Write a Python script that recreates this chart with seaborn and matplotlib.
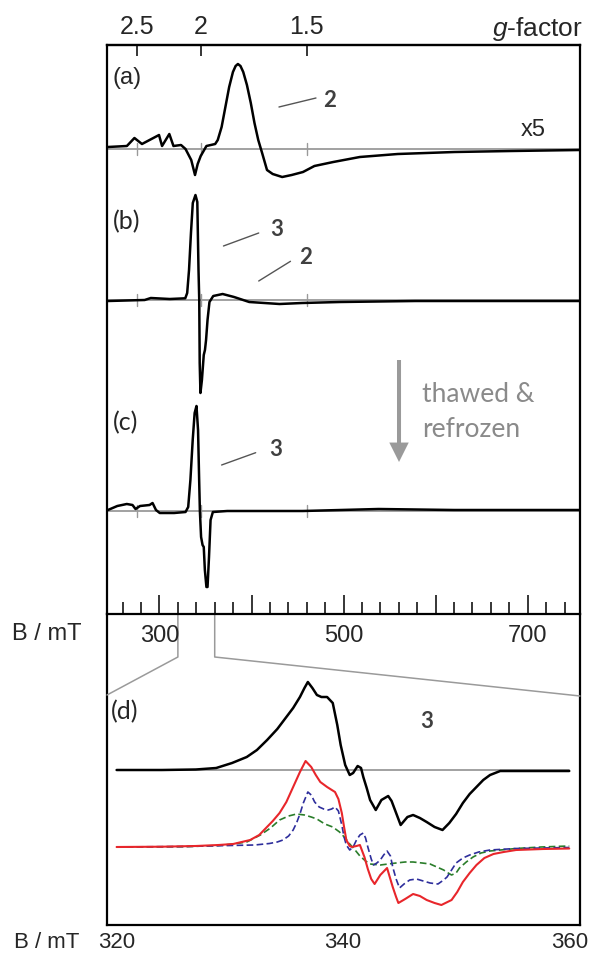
import numpy as np
import pandas as pd
import matplotlib
matplotlib.use("Agg")
import matplotlib.pyplot as plt
import seaborn as sns
from matplotlib.lines import Line2D
from matplotlib.ticker import FixedLocator, FixedFormatter, MultipleLocator

# ---------------- data ----------------
G_TIMES_B = 690.0          # g * B (mT) for the microwave frequency used
g_ticks = [2.5, 2.0, 1.5]
g_labels = ["2.5", "2", "1.5"]
B_ticks_top = [300, 400, 500, 600, 700]
B_labels_top = ["300", "", "500", "", "700"]
B_ticks_d = [320, 340, 360]
B_labels_d = ["320", "340", "360"]

# (a)  x5
a_B = [244, 264.6, 272.8, 281, 299.5, 302.8, 310.7, 315.2, 323.4, 328.3, 334.5, 338.6,
       341.5, 344.8, 351, 360.5, 363.3, 367.5, 371.6, 375.7, 379.8, 382.7, 385.2, 388,
       391, 395, 399.2, 403.2, 407.3, 411.5, 416.8, 423, 433.3, 443.6, 455.9, 468.3,
       488.8, 517.6, 558.8, 620.5, 682.3, 756.3]
a_I = [2, 3, 11, 5, 14, 3, 15, 3, 4, 0, -11, -26,
       -15, -7, 3, 5, 9, 22, 42, 62, 77, 83, 85, 83,
       77, 64, 46, 26, 9, -4, -21, -25, -28, -26, -23, -17,
       -13, -8, -5, -3, -2, -1]

# (b)
b_B = [244, 283.9, 290.6, 311.2, 328, 330.1, 332.1, 334.2, 336.2, 339.1, 341.1, 342.4,
       343.2, 343.7, 344.5, 346.1, 348.1, 349.4, 350.6, 352.2, 354.3, 358.4, 368.6, 381,
       397.5, 414, 430.4, 455, 496, 578, 756]
b_I = [-1, 0, 2, 1, 1.7, 7, 30, 67, 97, 105, 98, 30,
       0, -63, -93, -80, -55, -50, -40, -20, -2, 4, 6, 3,
       -2, -3, -4, -3, -2, -1, -1]

# (c)
c_B = [244, 254.2, 264.5, 270.7, 274, 278.9, 289.2, 292.5, 296.2, 300.3, 315.9, 328.3,
       331.2, 333.6, 336.1, 338.2, 340.2, 341.9, 343.1, 343.9, 345.2, 346.8, 348.1, 349.3,
       351, 352.2, 353.8, 355.5, 358, 373.6, 455.7, 538, 620, 756]
c_I = [1, 5, 7, 6, 2, 5, 6, 8, 1, -2, -2, -1,
       4, 31, 71, 98, 105, 81, 31, 0, -26, -34, -36, -59,
       -76, -76, -46, -9, -1, 0, 0, 2, 1, 1]

# (d) experimental (black)
dk_B = [320, 324, 327, 328.8, 330.2, 331.5, 332.4, 333.3, 334.2, 335.0, 335.6, 336.2,
        336.6, 336.9, 337.3, 337.7, 338.1, 338.6, 339.1, 339.5, 339.8, 340.2, 340.6, 340.9,
        341.3, 341.6, 341.8, 342.1, 342.4, 342.9, 343.4, 344.0, 344.3, 344.6, 345.1, 345.7,
        346.2, 346.8, 347.4, 348.1, 348.8, 349.4, 350.0, 350.6, 351.2, 351.8, 352.4, 353.0,
        353.9, 355, 357, 360]
dk_I = [0, 0, 0.5, 2, 7, 13, 20, 30, 41, 53, 62, 73,
        82, 88, 82, 75, 73, 73, 67, 45, 25, 5, -5, -3,
        4, 2, -7, -18, -30, -40, -30, -26, -31, -40, -55, -47,
        -45, -48, -52, -57, -60, -53, -44, -33, -24, -17, -10, -5,
        -1, -1, -1, -1]
# (d) simulation total (red)
dr_B = [320, 324, 327, 329, 330.3, 331.8, 332.6, 333.2, 333.8, 334.4, 335.0, 335.6,
        336.2, 336.7, 337.2, 337.6, 338.0, 338.6, 339.3, 339.6, 339.9, 340.1, 340.3, 340.6,
        340.8, 341.2, 341.5, 341.9, 342.2, 342.5, 342.8, 343.3, 343.9, 344.4, 344.7, 344.9,
        345.5, 346.2, 346.8, 347.4, 348.1, 348.7, 349.6, 350.1, 350.6, 351.2, 351.8, 352.5,
        353.3, 354.2, 355.3, 357.7, 360]
dr_I = [0, 0.3, 1, 2, 3, 7, 12, 19, 26, 34, 45, 60,
        75, 86, 80, 72, 65, 60, 55, 48, 34, 20, 7, 1,
        0, 1, 2, -10, -22, -32, -37, -28, -21, -40, -50, -56,
        -52, -47, -49, -53, -56, -58, -53, -45, -35, -26, -18, -11,
        -7, -5, -3, -2, -1.5]
# (d) component 1 (blue dashed)
db_B = [320, 326, 330, 332.2, 333.5, 334.2, 334.7, 335.2, 335.6, 335.9, 336.2, 336.5,
        336.9, 337.2, 337.5, 337.9, 338.3, 338.7, 339.0, 339.3, 339.6, 339.9, 340.1, 340.3,
        340.6, 340.9, 341.2, 341.5, 341.8, 342.0, 342.2, 342.5, 342.7, 343.0, 343.3, 343.6,
        343.9, 344.2, 344.4, 344.7, 345.0, 345.4, 345.9, 346.5, 347.1, 347.7, 348.4, 348.9,
        349.2, 349.6, 350.0, 350.6, 351.2, 352.0, 353.0, 355.3, 360]
db_I = [0, 0.5, 1.5, 2, 3.5, 5, 7, 11, 17, 24, 33, 44,
        55, 52, 45, 40, 38, 37, 38, 40, 36, 22, 10, 2,
        -3, 0, 7, 12, 14, 9, 0, -12, -18, -16, -13, -8,
        -4, -9, -20, -32, -41, -37, -33, -32, -34, -36, -37, -33,
        -30, -23, -16, -11, -8, -5, -3, -1.5, -0.5]
# (d) component 2 (green dashed)
dg_B = [320, 326, 329, 330.3, 331.5, 332.7, 333.6, 334.4, 335.2, 335.9, 336.6, 337.2,
        337.7, 338.4, 339.1, 339.7, 340.2, 340.6, 341.0, 341.5, 342.0, 342.4, 343.3, 344.0,
        344.7, 345.5, 346.2, 347.0, 347.7, 348.3, 348.9, 349.3, 349.6, 350.0, 350.3, 350.9,
        351.5, 352.2, 353.0, 355.3, 357.5, 360]
dg_I = [0, 0.3, 1.5, 3, 5, 12, 19, 27, 31, 33, 32, 30,
        28, 23, 20, 15, 9, 3, -2, -9, -14, -17, -18, -17,
        -16, -15, -15, -16, -17, -20, -23, -26, -28, -26, -21, -15,
        -10, -6, -4, -1.5, 0, 1]

# ---------------- style ----------------
sns.set_style("white")
plt.rcParams['font.family'] = ['Liberation Sans', 'DejaVu Sans']
plt.rcParams['mathtext.fontset'] = 'custom'
plt.rcParams['mathtext.it'] = 'Liberation Sans:italic'
plt.rcParams['mathtext.rm'] = 'Liberation Sans'
CAL = ['Lato', 'DejaVu Sans']
GRAY = '#9a9a9a'
LAB = '#404040'

W, H = 591, 959
fig = plt.figure(figsize=(W / 100, H / 100), dpi=100)


def rect(l, t, r, b):
    return [l / W, 1 - b / H, (r - l) / W, (b - t) / H]


ax = fig.add_axes(rect(107, 45, 580, 614))
axd = fig.add_axes(rect(107, 614, 580, 925))
ax.set_zorder(2)
axd.set_zorder(1)
axd.patch.set_visible(False)
ax.patch.set_visible(False)

# ---------------- top panel ----------------
ax.set_xlim(243.0, 756.8)
ax.set_ylim(0, 569)
offsets = {'a': 465, 'b': 314, 'c': 103}
traces = {'a': (a_B, a_I), 'b': (b_B, b_I), 'c': (c_B, c_I)}
for key, (Bv, Iv) in traces.items():
    off = offsets[key]
    ax.axhline(off, color=GRAY, lw=1.3, zorder=1)
    for g in g_ticks:
        ax.plot([G_TIMES_B / g] * 2, [off - 6, off + 6], color=GRAY, lw=1.0, zorder=1)
    df = pd.DataFrame({'B': Bv, 'I': np.asarray(Iv, float) + off})
    sns.lineplot(data=df, x='B', y='I', ax=ax, color='black', lw=1.8,
                 estimator=None, sort=False, zorder=3)

ax.set_xlabel('')
ax.set_ylabel('')
ax.set_yticks([])
ax.xaxis.set_major_locator(FixedLocator(B_ticks_top))
ax.xaxis.set_major_formatter(FixedFormatter(B_labels_top))
ax.xaxis.set_minor_locator(MultipleLocator(20))
ax.tick_params(axis='x', which='major', direction='in', length=14, width=1.3,
               labelsize=17, pad=8, bottom=True)
ax.tick_params(axis='x', which='minor', direction='in', length=9, width=1.3, bottom=True)
for s in ax.spines.values():
    s.set_linewidth(1.6)
    s.set_color('black')


def f(x):
    x = np.asarray(x, float)
    return G_TIMES_B / np.where(np.abs(x) < 1e-9, 1e-9, x)


sec = ax.secondary_xaxis('top', functions=(f, f))
sec.xaxis.set_major_locator(FixedLocator(g_ticks))
sec.xaxis.set_major_formatter(FixedFormatter(g_labels))
sec.xaxis.set_minor_locator(FixedLocator([]))
sec.tick_params(axis='x', direction='in', length=8, width=1.3, labelsize=18, pad=4)
sec.spines['top'].set_linewidth(1.6)

ax.text((583 - 107) / 473, (614 - 29) / 569, r'$g$-factor', transform=ax.transAxes,
        ha='right', va='center', fontsize=19)

# panel labels and annotations
ax.text(249.5, 536, '(a)', ha='left', va='center', fontsize=17)
ax.text(249.5, 392, '(b)', ha='left', va='center', fontsize=18, family=CAL)
ax.text(249.5, 191, '(c)', ha='left', va='center', fontsize=18, family=CAL)
ax.text(705.7, 484, 'x5', ha='center', va='center', fontsize=17)

ax.plot([429.8, 470], [507, 516], color='#555555', lw=1.0)
ax.text(485, 514, '2', ha='center', va='center', fontsize=16, weight='bold',
        color=LAB, family=CAL)
ax.plot([369.5, 407.8], [368, 381], color='#555555', lw=1.0)
ax.text(427.6, 384, '3', ha='center', va='center', fontsize=16, weight='bold',
        color=LAB, family=CAL)
ax.plot([407.8, 442.3], [333, 352.7], color='#555555', lw=1.0)
ax.text(459, 357, '2', ha='center', va='center', fontsize=16, weight='bold',
        color=LAB, family=CAL)
ax.plot([367.5, 404.5], [149, 161.3], color='#555555', lw=1.0)
ax.text(426, 165, '3', ha='center', va='center', fontsize=16, weight='bold',
        color=LAB, family=CAL)

ax.annotate('', xy=(560.2, 152), xytext=(560.2, 254),
            arrowprops=dict(width=2.9, headwidth=14, headlength=14, shrink=0,
                            color=GRAY, lw=0))
ax.text(585.2, 212, 'thawed &', ha='left', va='baseline', fontsize=19,
        color='#8a8a8a', family=CAL)
ax.text(585.2, 177, 'refrozen', ha='left', va='baseline', fontsize=19,
        color='#8a8a8a', family=CAL)

# ---------------- panel (d) ----------------
axd.set_xlim(319.15, 360.95)
axd.set_ylim(0, 311)
off_k, off_s = 155, 78
axd.plot([320, 360], [off_k, off_k], color=GRAY, lw=1.3, zorder=1)
sns.lineplot(x=np.asarray(dk_B), y=np.asarray(dk_I, float) + off_k, ax=axd,
             color='black', lw=1.8, estimator=None, sort=False, zorder=3)
sns.lineplot(x=np.asarray(dg_B), y=np.asarray(dg_I, float) + off_s, ax=axd,
             color='#2a7d2a', lw=1.2, estimator=None, sort=False, ls=(0, (4, 2)), zorder=3)
sns.lineplot(x=np.asarray(db_B), y=np.asarray(db_I, float) + off_s, ax=axd,
             color='#2e2e9c', lw=1.2, estimator=None, sort=False, ls=(0, (4, 2)), zorder=4)
sns.lineplot(x=np.asarray(dr_B), y=np.asarray(dr_I, float) + off_s, ax=axd,
             color='#e8262b', lw=1.5, estimator=None, sort=False, zorder=5)

axd.set_xlabel('')
axd.set_ylabel('')
axd.set_yticks([])
axd.xaxis.set_major_locator(FixedLocator(B_ticks_d))
axd.xaxis.set_major_formatter(FixedFormatter(B_labels_d))
axd.xaxis.set_minor_locator(MultipleLocator(5))
axd.tick_params(axis='x', which='major', direction='in', length=15, width=1.3,
                labelsize=16, pad=5)
axd.tick_params(axis='x', which='minor', direction='in', length=10, width=1.3)
for s in axd.spines.values():
    s.set_linewidth(1.6)
    s.set_color('black')
axd.spines['top'].set_visible(False)

axd.text(319.5, 213, '(d)', ha='left', va='center', fontsize=18, family=CAL)
axd.text(347.4, 203, '3', ha='center', va='center', fontsize=16, weight='bold',
         color=LAB, family=CAL)

fig.text(47 / W, 1 - 634 / H, 'B / mT', ha='center', va='center', fontsize=17)
fig.text(47 / W, 1 - 943 / H, 'B / mT', ha='center', va='center', fontsize=16)

# ---------------- zoom connector lines ----------------
fig.canvas.draw()
to_fig = fig.transFigure.inverted()
for Bz, side in ((320, 'left'), (360, 'right')):
    x_top, y_spine = ax.transData.transform((Bz, 0))
    y_knee = axd.transData.transform((0, 268))[1]
    if side == 'left':
        x_end = axd.transAxes.transform((0, 0))[0]
        y_end = axd.transData.transform((0, 230))[1]
    else:
        x_end = axd.transAxes.transform((1, 0))[0]
        y_end = axd.transData.transform((0, 229))[1]
    pts = to_fig.transform([(x_top, y_spine), (x_top, y_knee), (x_end, y_end)])
    fig.add_artist(Line2D(pts[:, 0], pts[:, 1], color=GRAY, lw=1.1,
                          transform=fig.transFigure, zorder=1.5))

fig.savefig('out.png', dpi=100)
